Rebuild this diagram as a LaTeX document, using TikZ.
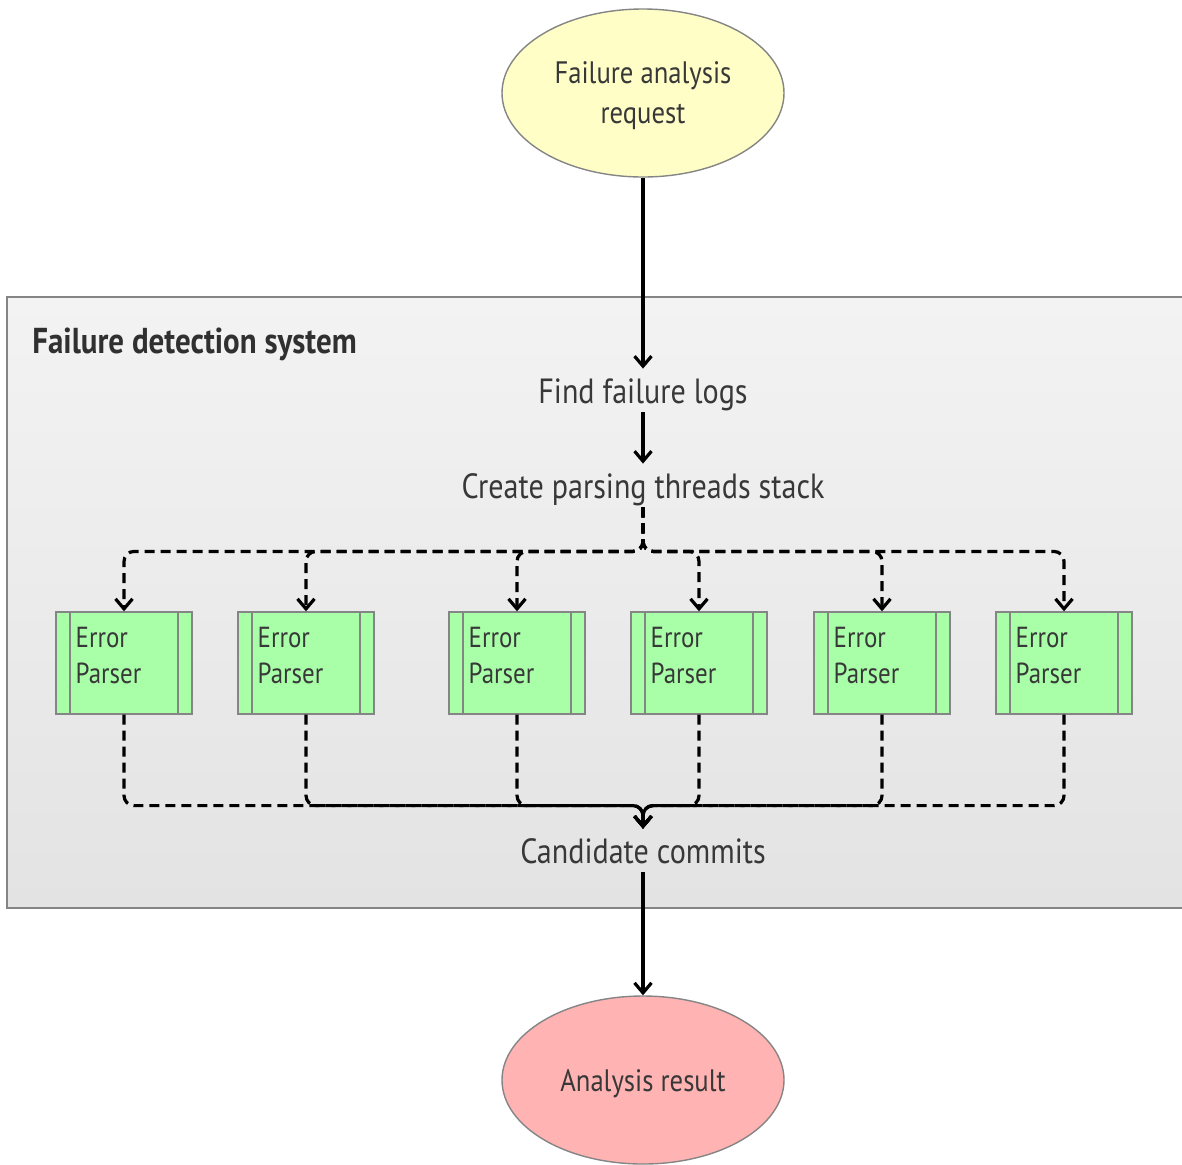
\documentclass[tikz,border=0pt]{standalone}
\usepackage{fontspec}
\setmainfont{PT Sans}[FakeStretch=0.86]
\usetikzlibrary{arrows.meta,shapes.geometric,calc}

\definecolor{txt}{HTML}{383838}
\definecolor{startfill}{HTML}{FEFEC6}
\definecolor{endfill}{HTML}{FFB3B3}
\definecolor{parserfill}{HTML}{A8FFA8}
\definecolor{edge}{HTML}{858585}
\definecolor{paneltop}{HTML}{F3F3F3}
\definecolor{panelbottom}{HTML}{E3E3E3}

\tikzset{
  terminal/.style={ellipse, draw=edge, line width=0.7pt, minimum width=141pt,
    minimum height=84pt, inner sep=0pt, text=txt, align=center,
    font=\fontsize{15.5}{20}\selectfont, text depth=0pt},
  steplabel/.style={text=txt, inner sep=0pt, anchor=base,
    font=\fontsize{17.5}{20}\selectfont, text height=17pt, text depth=4.5pt},
  parser/.style={rectangle, draw=edge, fill=parserfill, line width=0.7pt,
    minimum width=68pt, minimum height=51pt, inner sep=0pt,
    path picture={
      \draw[edge, line width=0.7pt]
        ([xshift=7pt]path picture bounding box.north west) --
        ([xshift=7pt]path picture bounding box.south west)
        ([xshift=-7pt]path picture bounding box.north east) --
        ([xshift=-7pt]path picture bounding box.south east);
    }},
  parsertext/.style={text=txt, inner sep=0pt, anchor=north west, align=left,
    font=\fontsize{14.5}{18}\selectfont},
  flow/.style={line width=1.6pt, -{Straight Barb[length=5pt,width=8.5pt,line width=1.6pt]}},
  fork/.style={flow, dash pattern=on 5pt off 3pt, rounded corners=5pt},
}

\begin{document}
\begin{tikzpicture}[x=0.5pt, y=-0.5pt]
  \useasboundingbox (0,0) rectangle (1182,1164);

  % system panel, open on the right
  \node[rectangle, inner sep=0pt, top color=paneltop, bottom color=panelbottom,
        minimum width=587.5pt, minimum height=305pt, anchor=north west]
        (panel) at (7,297) {};
  \draw[edge, line width=0.7pt] (panel.north east) -- (panel.north west)
        -- (panel.south west) -- (panel.south east);
  \node[text=txt!85!black, inner sep=0pt, anchor=base west,
        font=\bfseries\fontsize{18}{20}\selectfont]
        (paneltitle) at (32,353) {Failure detection system};

  % start and end
  \node[terminal, fill=startfill] (request) at (643,93) {Failure analysis\\request};
  \node[terminal, fill=endfill] (result) at (643,1080) {Analysis result};

  % steps
  \node[steplabel] (find) at (643,403) {Find failure logs};
  \node[steplabel] (create) at (643,498) {Create parsing threads stack};
  \node[steplabel] (cand) at (643,863) {Candidate commits};

  \draw[flow] (request.south) -- (find.north);
  \draw[flow] (find.south) -- (create.north);
  \draw[flow] (cand.south) -- (result.north);

  % parser threads
  \foreach \i/\x in {1/124, 2/306, 3/517, 4/699, 5/882, 6/1064} {
    \node[parser] (p\i) at (\x,663) {};
    \node[parsertext] (p\i t) at ($(p\i.north west)+(20,15)$) {Error\\Parser};
    \draw[fork] (create.south) -- ($(create.south)+(0,44)$) -| (p\i.north);
    \draw[fork] (p\i.south) |- ($(cand.north)+(0,-23)$) -- (cand.north);
  }
\end{tikzpicture}
\end{document}
